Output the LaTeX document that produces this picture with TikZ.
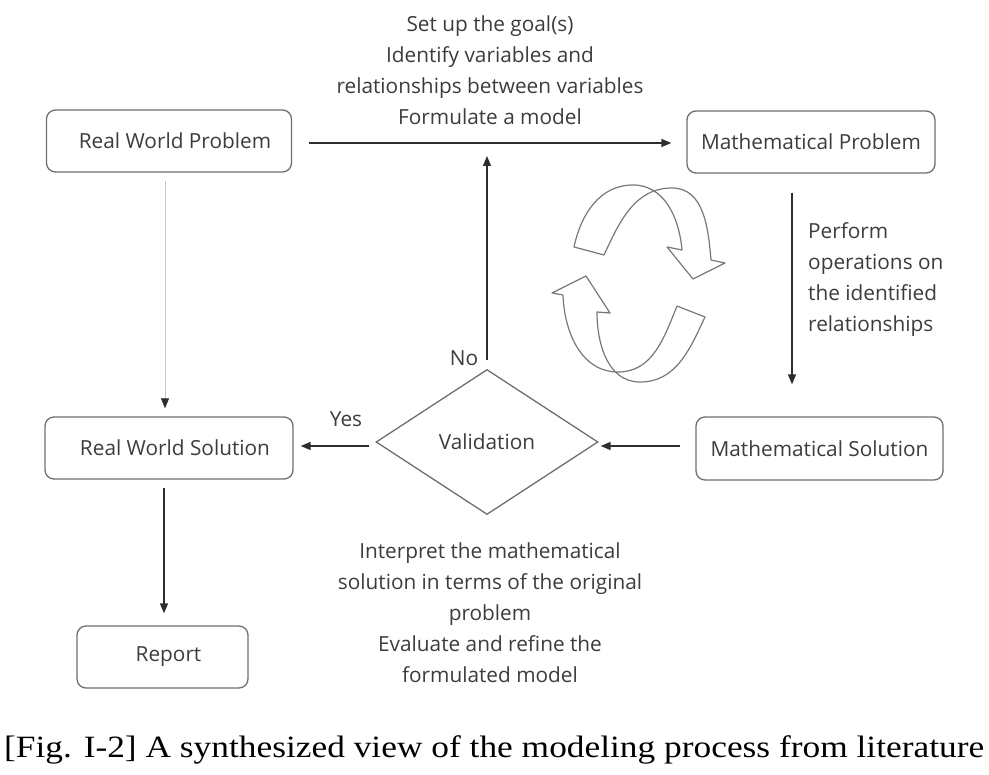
\documentclass[tikz,border=0pt]{standalone}
\usepackage{fontspec}
\setmainfont{Open Sans}
\newfontfamily\capfont{Liberation Serif}
\usetikzlibrary{arrows.meta,shapes.geometric}
\definecolor{boxline}{HTML}{6E6E6E}
\definecolor{txt}{HTML}{3C3C3C}
\definecolor{arrline}{HTML}{2E2E2E}
\definecolor{ringline}{HTML}{787878}
\begin{document}
\begin{tikzpicture}[x=1pt,y=-1pt,
  every node/.style={font=\fontsize{20.8}{31}\selectfont, text=txt},
  procbox/.style={draw=boxline, line width=1.3pt, rounded corners=9pt, inner sep=0pt},
  decbox/.style={draw=boxline, line width=1.3pt, diamond, inner sep=0pt},
  arr/.style={draw=arrline, line width=1.4pt, -{Triangle[length=10pt,width=8pt]}},
  lightarr/.style={draw=black!22, line width=0.8pt, -{Triangle[length=10pt,width=8pt,fill=arrline,color=arrline]}},
  ring/.style={draw=ringline, line width=1.2pt, fill=white, line join=round},
  lbl/.style={align=center, inner sep=0pt}
]
\useasboundingbox (0,0) rectangle (989,775);

% boxes
\node[procbox, minimum width=245pt, minimum height=62pt] (rwp) at (169,141) {\hspace*{12pt}Real World Problem};
\node[procbox, minimum width=248pt, minimum height=62pt] (mp) at (811,142) {Mathematical Problem};
\node[procbox, minimum width=247pt, minimum height=63pt] (ms) at (819.5,448.5) {Mathematical Solution};
\node[procbox, minimum width=248pt, minimum height=62pt] (rws) at (169,448) {\hspace*{12pt}Real World Solution};
\node[procbox, minimum width=171pt, minimum height=62pt] (rep) at (162.5,657) {\hspace*{12pt}Report};
\node[decbox, minimum width=222pt, minimum height=145pt] (val) at (487,442) {Validation};

\coordinate (notop) at (487,156);

% labels
\node[lbl] (toptxt) at (490,70) {Set up the goal(s)\\Identify variables and\\relationships between variables\\Formulate a model};
\node[lbl, align=left, anchor=north west] (righttxt) at (808,222) {Perform\\operations on\\the identified\\relationships};
\node[lbl] (bottxt) at (490,613) {Interpret the mathematical\\solution in terms of the original\\problem\\Evaluate and refine the\\formulated model};
\node[lbl] (yes) at (346,419) {Yes};
\node[lbl] (no) at (464,358) {No};

% connectors
\draw[arr] ([xshift=17pt,yshift=-2pt]rwp.east) -- ([xshift=-15pt,yshift=-1pt]mp.west);
\draw[arr] ([xshift=-19pt,yshift=-19pt]mp.south) -- ([xshift=-27.5pt,yshift=32pt]ms.north);
\draw[arr] ([xshift=-15pt,yshift=2.5pt]ms.west) -- ([xshift=2pt,yshift=-4pt]val.east);
\draw[arr] ([xshift=-6pt,yshift=-4pt]val.west) -- ([xshift=7pt,yshift=2pt]rws.east);
\draw[arr] ([yshift=9pt]val.north) -- (notop);
\draw[lightarr] ([xshift=-4pt,yshift=-8pt]rwp.south) -- ([xshift=-4pt,yshift=8pt]rws.north);
\draw[arr] ([xshift=-5pt,yshift=-8pt]rws.south) -- ([xshift=1.5pt,yshift=12pt]rep.north);

% cycle arrows (3-D ring)
\draw[ring] (574,247) to[out=78,in=180] (633,185) to[out=0,in=95] (682,250)
  -- (667,247) -- (693,279) -- (725,263) -- (711,260)
  to[out=95,in=0] (672,188) to[out=180,in=65] (604,255) -- cycle;
\draw[ring] (705,317) to[out=-115,in=0] (640,382) to[out=180,in=-90] (597,312)
  -- (610,313) -- (586,276) -- (552,293) -- (563,295)
  to[out=-88,in=180] (618,372) to[out=0,in=-112] (677,306) -- cycle;

% caption
\node[inner sep=0pt, text=black, anchor=west] (cap) at (4,750)
  {\resizebox{980pt}{\height}{\capfont\fontsize{31}{36}\selectfont [Fig. I-2] A synthesized view of the modeling process from literature}};
\end{tikzpicture}
\end{document}
